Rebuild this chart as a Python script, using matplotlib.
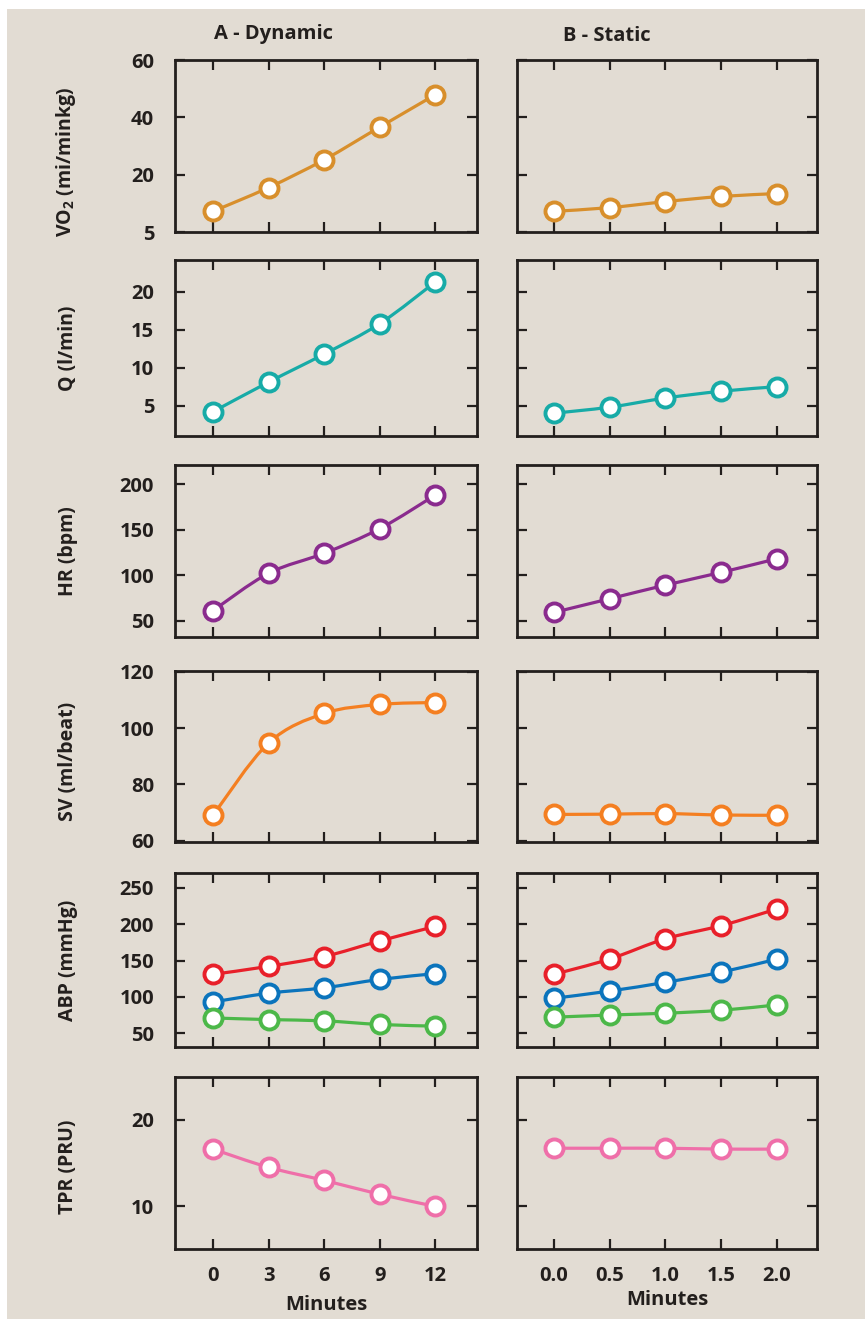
import numpy as np
import matplotlib
matplotlib.use("Agg")
import matplotlib.pyplot as plt
from matplotlib.path import Path
from matplotlib.patches import PathPatch, Rectangle

plt.rcParams['font.family'] = ['Open Sans', 'DejaVu Sans']
plt.rcParams['font.weight'] = 'bold'
plt.rcParams['mathtext.fontset'] = 'custom'
plt.rcParams['mathtext.rm'] = 'Open Sans:bold'
plt.rcParams['mathtext.default'] = 'rm'

# ---- data ----
minutes_dyn = [0, 3, 6, 9, 12]
minutes_sta = [0.0, 0.5, 1.0, 1.5, 2.0]
xlabels_dyn = ['0', '3', '6', '9', '12']
xlabels_sta = ['0.0', '0.5', '1.0', '1.5', '2.0']

vo2_dyn = [7.2, 15.5, 25.2, 36.6, 47.9]
vo2_sta = [7.2, 8.5, 10.6, 12.4, 13.4]
q_dyn = [4.2, 8.1, 11.8, 15.8, 21.3]
q_sta = [4.0, 4.8, 6.0, 6.9, 7.5]
hr_dyn = [61, 102, 124, 151, 188]
hr_sta = [59, 74, 89, 103, 118]
sv_dyn = [69, 94.7, 105.2, 108.4, 109.1]
sv_sta = [69.3, 69.4, 69.6, 69.1, 69.0]
sbp_dyn = [131, 142, 155.5, 177, 197]
mbp_dyn = [93, 105, 112.5, 124, 132]
dbp_dyn = [71, 68.7, 67, 62, 59.7]
sbp_sta = [131, 152, 180, 198, 221]
mbp_sta = [98, 108, 120, 134, 152]
dbp_sta = [72, 75, 77.5, 81.5, 89]
tpr_dyn = [16.6, 14.5, 13.0, 11.4, 10.0]
tpr_sta = [16.7, 16.7, 16.7, 16.6, 16.6]

ylabels = ['VO$_2$ (mi/minkg)', 'Q (l/min)', 'HR (bpm)', 'SV (ml/beat)',
           'ABP (mmHg)', 'TPR (PRU)']
yticks = [[0, 20, 40, 60], [5, 10, 15, 20], [50, 100, 150, 200],
          [60, 80, 100, 120], [50, 100, 150, 200, 250], [10, 20]]
yticklabels = [['5', '20', '40', '60'], None, None, None, None, None]
ylims = [(0, 60), (1.0, 24.2), (32, 221), (59.5, 120.3), (31, 270.5), (5.1, 24.9)]

c_vo2 = '#d88f2c'
c_q = '#17aba7'
c_hr = '#8a2b8e'
c_sv = '#f47f21'
c_sbp = '#e8202a'
c_mbp = '#0b74bc'
c_dbp = '#4cb849'
c_tpr = '#ef6fa9'

series = [
    ([(vo2_dyn, c_vo2)], [(vo2_sta, c_vo2)]),
    ([(q_dyn, c_q)], [(q_sta, c_q)]),
    ([(hr_dyn, c_hr)], [(hr_sta, c_hr)]),
    ([(sv_dyn, c_sv)], [(sv_sta, c_sv)]),
    ([(sbp_dyn, c_sbp), (mbp_dyn, c_mbp), (dbp_dyn, c_dbp)],
     [(sbp_sta, c_sbp), (mbp_sta, c_mbp), (dbp_sta, c_dbp)]),
    ([(tpr_dyn, c_tpr)], [(tpr_sta, c_tpr)]),
]

bg = '#e2dcd3'
ink = '#231f1d'
W, H = 865, 1319

fig = plt.figure(figsize=(W / 100, H / 100), dpi=100, facecolor='white')
fig.patches.append(Rectangle((7 / W, 0), 1, 1 - 9 / H, transform=fig.transFigure,
                             facecolor=bg, edgecolor='none', zorder=-10))

# panel boxes in pixels
col_x = [(175, 477), (517, 817)]
rows = [(60, 232), (260, 436), (465, 637), (671, 842), (873, 1047), (1077, 1249)]
ylabel_y = [0.41, 0.5, 0.5, 0.47, 0.5, 0.48]


def smooth_line(ax, xs, ys, color):
    # Catmull-Rom style bezier through the data points
    p = np.column_stack([xs, ys]).astype(float)
    n = len(p)
    verts = [p[0]]
    codes = [Path.MOVETO]
    for i in range(n - 1):
        p0 = p[i - 1] if i > 0 else p[i]
        p3 = p[i + 2] if i + 2 < n else p[i + 1]
        c1 = p[i] + (p[i + 1] - p0) / 6
        c2 = p[i + 1] - (p3 - p[i]) / 6
        verts += [c1, c2, p[i + 1]]
        codes += [Path.CURVE4] * 3
    ax.add_patch(PathPatch(Path(verts, codes), facecolor='none', edgecolor=color,
                           lw=2.3, zorder=3, capstyle='round'))


for r in range(6):
    for c in range(2):
        x0, x1 = col_x[c]
        top, bot = rows[r]
        ax = fig.add_axes([x0 / W, 1 - bot / H, (x1 - x0) / W, (bot - top) / H])
        ax.set_facecolor('none')
        xs = minutes_dyn if c == 0 else minutes_sta
        for ys, col in series[r][c]:
            smooth_line(ax, xs, ys, col)
            ax.plot(xs, ys, 'o', ms=13, mfc='white', mec=col, mew=2.8, zorder=4,
                    clip_on=False)
        if c == 0:
            ax.set_xlim(-2.05, 14.25)
            ax.set_xticks(minutes_dyn)
            ax.set_xticklabels(xlabels_dyn)
        else:
            ax.set_xlim(-0.33, 2.36)
            ax.set_xticks(minutes_sta)
            ax.set_xticklabels(xlabels_sta)
        ax.set_ylim(*ylims[r])
        ax.set_yticks(yticks[r])
        if yticklabels[r] is not None:
            ax.set_yticklabels(yticklabels[r])
        for s in ax.spines.values():
            s.set_linewidth(2.0)
            s.set_color(ink)
        ax.tick_params(direction='in', length=7, width=1.6, color=ink,
                       top=True, right=True, labelsize=14.5, labelcolor=ink)
        ax.tick_params(axis='y', pad=15)
        ax.tick_params(axis='x', pad=12)
        if c == 1:
            ax.tick_params(labelleft=False)
        else:
            ax.set_ylabel(ylabels[r], fontsize=14, fontweight='bold', color=ink)
            ax.yaxis.set_label_coords(-0.32, ylabel_y[r])
        if r < 5:
            ax.tick_params(labelbottom=False)
        else:
            ax.set_xlabel('Minutes', fontsize=14.5, fontweight='bold', color=ink,
                          labelpad=7 if c == 0 else 3)
        for lab in ax.get_xticklabels() + ax.get_yticklabels():
            lab.set_fontweight('bold')

fig.text(274 / W, 1 - 34 / H, 'A - Dynamic', ha='center', va='center',
         fontsize=14.5, fontweight='bold', color=ink)
fig.text(607 / W, 1 - 36 / H, 'B - Static', ha='center', va='center',
         fontsize=14.5, fontweight='bold', color=ink)

fig.savefig('out.png', dpi=100, facecolor='white')
